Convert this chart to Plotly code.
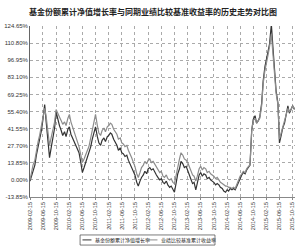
import pandas as pd
import plotly.graph_objects as go

title = "基金份额累计净值增长率与同期业绩比较基准收益率的历史走势对比图"
name_fund = "基金份额累计净值增长率"
name_bench = "业绩比较基准累计收益率"

# semi-monthly observation dates
dates = pd.date_range("2009-02-15", periods=162, freq="SMS")

fund = [-1, 3, 8, 12, 20, 26, 31, 40, 49, 61,
        47, 30, 18, 27, 34, 42, 55, 48, 44, 40,
        36, 39, 35, 41, 43, 37, 34, 31, 28, 25,
        22, 14, 6, 10, 14, 17, 22, 27, 33, 38,
        43, 35, 30, 28, 32, 34, 31, 35, 36, 38,
        37, 33, 31, 28, 24, 26, 22, 21, 19, 20,
        16, 13, 10, 7, 4, -2, -5, -1, 2, 4,
        7, 5, 9, 10, 8, 9, 6, 4, 2, 0,
        1, -2, -3, -1, -4, -6, -5, -8, -10, -2,
        5, 9, 15, 13, 10, 11, 7, 3, 1, -3,
        -2, -8, -3, 4, 6, 3, 5, 4, 1, 2,
        0, -1, -2, -4, -3, -4, -6, -7, -9, -10,
        -8, -9, -7, -8, -7, -8, -5, -1, 2, 4,
        6, 5, 8, 10, 12, 40, 49, 52, 46, 48,
        51, 62, 80, 92, 100, 104, 110, 126, 108, 88,
        72, 62, 30, 36, 42, 46, 52, 60, 54, 57,
        60, 57]

bench = [0, 6, 12, 16, 25, 31, 36, 44, 52, 58,
         51, 38, 28, 35, 41, 47, 57, 53, 51, 48,
         45, 47, 44, 50, 53, 47, 43, 39, 36, 31,
         27, 20, 14, 17, 21, 24, 27, 34, 42, 49,
         53, 44, 38, 36, 40, 42, 39, 43, 44, 46,
         45, 41, 39, 37, 33, 34, 30, 29, 27, 28,
         24, 21, 18, 14, 11, 5, 2, 6, 10, 12,
         15, 13, 16, 17, 14, 15, 13, 11, 9, 6,
         7, 3, 2, 4, 1, 0, 1, -2, -3, 5,
         12, 17, 22, 20, 17, 16, 14, 11, 9, 4,
         3, -1, 3, 9, 11, 8, 10, 9, 6, 7,
         5, 4, 3, 1, 2, 0, -2, -3, -4, -5,
         -5, -6, -6, -7, -6, -7, -4, 0, 3, 5,
         7, 6, 9, 11, 12, 40, 48, 50, 46, 48,
         50, 60, 78, 89, 97, 101, 108, 118, 103, 86,
         70, 61, 33, 38, 43, 47, 52, 58, 55, 57,
         60, 58]

y_ticks = [-13.85, 0.00, 13.85, 27.70, 41.55, 55.40, 69.25, 83.10, 96.95, 110.80, 124.65]
y_labels = ["-13.85%", "0.00%", "13.85%", "27.70%", "41.55%", "55.40%",
            "69.25%", "83.10%", "96.95%", "110.80%", "124.65%"]

tick_dates = dates[::8]
tick_labels = [d.strftime("%Y-%m-%d") for d in tick_dates]

c_fund = "#333333"
c_bench = "#8c8c8c"

fig = go.Figure()
fig.add_trace(go.Scatter(x=dates, y=fund, mode="lines", name=name_fund,
                         line=dict(color=c_fund, width=1.2)))
fig.add_trace(go.Scatter(x=dates, y=bench, mode="lines", name=name_bench,
                         line=dict(color=c_bench, width=1.2)))

# hand-built legend box (paper coordinates)
leg_y = -0.251
fig.add_shape(type="rect", xref="paper", yref="paper", x0=0.189, x1=0.698, y0=-0.281, y1=-0.222,
              line=dict(color="#444", width=0.7), fillcolor="white")
fig.add_shape(type="line", xref="paper", yref="paper", x0=0.198, x1=0.232, y0=leg_y, y1=leg_y,
              line=dict(color=c_fund, width=1))
fig.add_shape(type="line", xref="paper", yref="paper", x0=0.447, x1=0.481, y0=leg_y, y1=leg_y,
              line=dict(color=c_bench, width=1))
fig.add_annotation(xref="paper", yref="paper", x=0.238, y=leg_y, text=name_fund, showarrow=False,
                   xanchor="left", yanchor="middle",
                   font=dict(family="Noto Sans CJK SC", size=5, color="#222"))
fig.add_annotation(xref="paper", yref="paper", x=0.487, y=leg_y, text=name_bench, showarrow=False,
                   xanchor="left", yanchor="middle",
                   font=dict(family="Noto Sans CJK SC", size=5, color="#222"))

fig.update_layout(
    width=300, height=246,
    margin=dict(l=30, r=5, t=26, b=49),
    paper_bgcolor="white", plot_bgcolor="white",
    title=dict(text="<b>" + title + "</b>", x=0.51, xanchor="center", y=0.952, yanchor="middle",
               font=dict(family="Noto Sans CJK SC", size=8, color="#222")),
    font=dict(family="Liberation Sans", size=6, color="#333"),
    showlegend=False,
)
fig.update_xaxes(
    range=[dates[0], dates[-1] + pd.Timedelta(days=5)],
    tickmode="array", tickvals=tick_dates, ticktext=tick_labels, tickangle=-90,
    tickfont=dict(size=5.5, color="#333"),
    showgrid=True, gridcolor="#aaa", griddash="dot", gridwidth=0.7,
    showline=True, linecolor="#888", linewidth=0.7,
    ticks="outside", ticklen=2, tickcolor="#888", zeroline=False,
)
fig.update_yaxes(
    range=[-13.85, 124.65],
    tickmode="array", tickvals=y_ticks, ticktext=y_labels,
    tickfont=dict(size=6, color="#333"),
    showgrid=True, gridcolor="#aaa", griddash="dot", gridwidth=0.7,
    showline=True, linecolor="#666", linewidth=0.8,
    ticks="", zeroline=False,
)
fig.write_html("out.html")
